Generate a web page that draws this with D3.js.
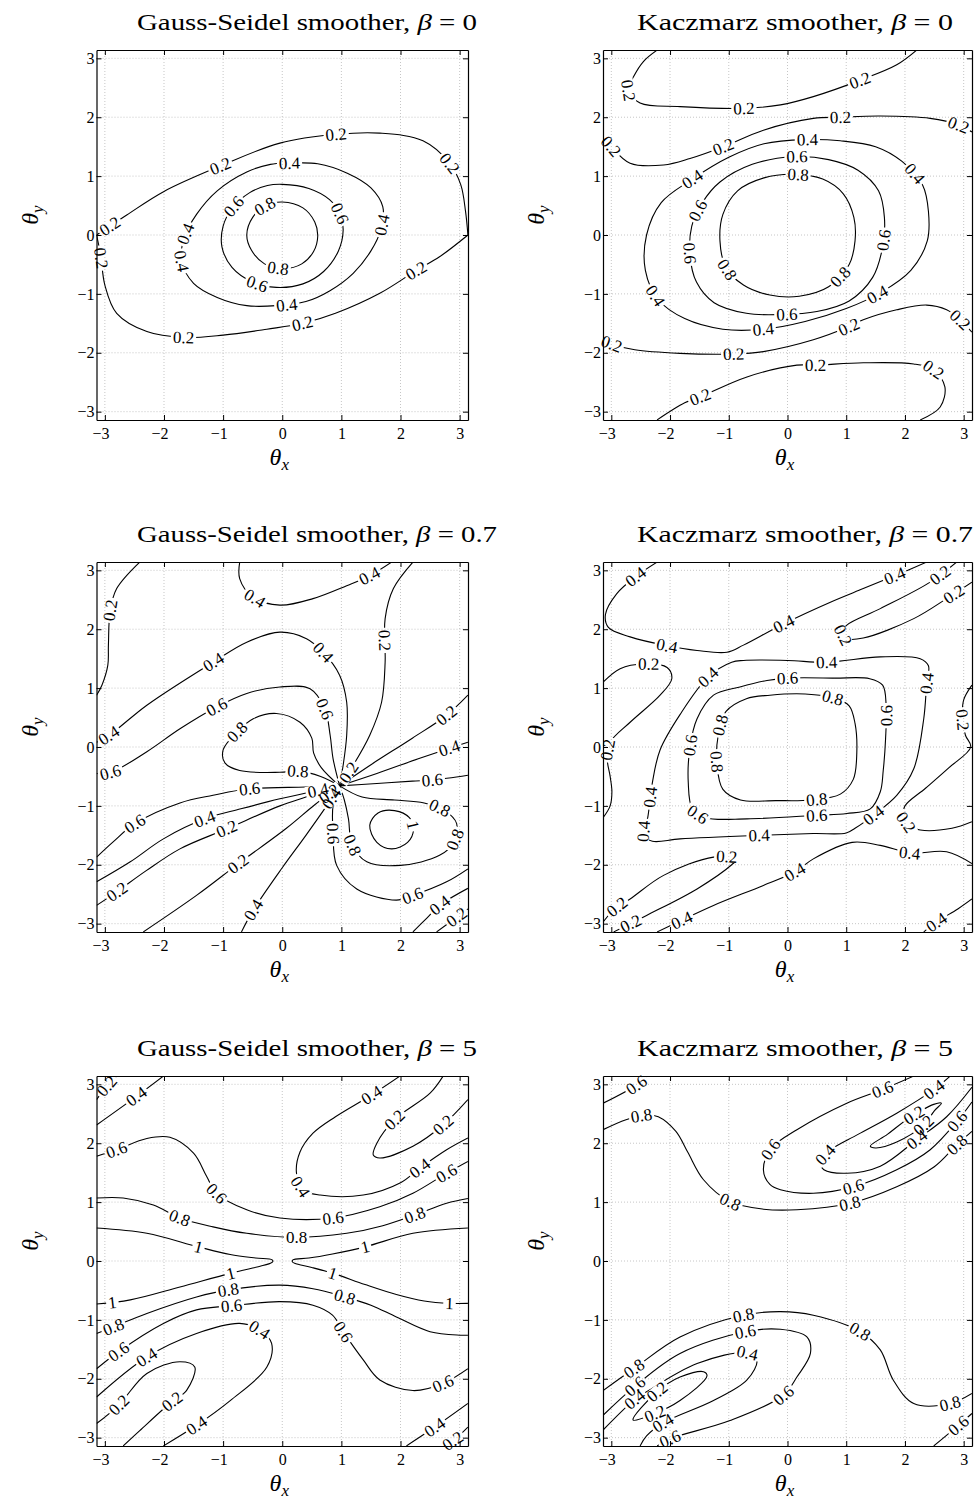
<!DOCTYPE html>
<html><head><meta charset="utf-8">
<script src="https://cdn.jsdelivr.net/npm/d3@7"></script>
<style>body{margin:0;background:#fff}</style>
</head><body>
<svg id="chart" width="976" height="1501"></svg>
<script>
// ---- data ---------------------------------------------------------------
const tickValues = [-3, -2, -1, 0, 1, 2, 3];
const smootherNames = ["Gauss-Seidel smoother", "Kaczmarz smoother"];
const betaValues = ["0", "0.7", "5"];

// Level curves of the smoothing factor: v = level, pts = (θx, θy) polyline,
// lab = where the inline level labels sit, closed = loop.
const gsBeta0 = [
  {v:0.8, closed:true, pts:[[0,0.56],[0.35,0.46],[0.55,0.22],[0.6,-0.02],[0.53,-0.28],[0.33,-0.49],[0.03,-0.57],[-0.3,-0.49],[-0.52,-0.26],[-0.6,0.0],[-0.5,0.3],[-0.27,0.5]], lab:[[-0.29,0.48],[-0.07,-0.57]]},
  {v:0.6, closed:true, pts:[[0,0.86],[0.45,0.79],[0.8,0.6],[0.98,0.35],[1.03,0.08],[0.95,-0.27],[0.7,-0.62],[0.35,-0.83],[-0.1,-0.89],[-0.5,-0.8],[-0.85,-0.55],[-1.02,-0.2],[-1.0,0.15],[-0.85,0.45],[-0.55,0.72],[-0.25,0.84]], lab:[[-0.77,0.45],[0.97,0.37],[-0.43,-0.85]]},
  {v:0.4, closed:true, pts:[[0.1,1.22],[0.6,1.21],[1.1,1.05],[1.5,0.8],[1.7,0.48],[1.67,0.1],[1.5,-0.27],[1.2,-0.65],[0.8,-0.95],[0.4,-1.13],[-0.1,-1.2],[-0.6,-1.2],[-1.1,-1.06],[-1.5,-0.82],[-1.7,-0.45],[-1.66,-0.05],[-1.45,0.35],[-1.1,0.75],[-0.6,1.07],[-0.2,1.2]], lab:[[0.13,1.22],[1.68,0.17],[0.07,-1.17],[-1.72,-0.45],[-1.62,0.02]]},
  {v:0.2, pts:[[-3.14,0],[-2.63,0.34],[-2.0,0.74],[-1.05,1.17],[-0.04,1.56],[0.92,1.71],[1.65,1.73],[2.38,1.6],[2.83,1.22],[3.02,0.85],[3.1,0.4],[3.14,0]], lab:[[-2.9,0.13],[-1.05,1.17],[0.92,1.71],[2.83,1.22]]},
  {v:0.2, pts:[[3.14,0],[2.66,-0.37],[2.27,-0.6],[1.65,-0.99],[0.9,-1.33],[0.35,-1.5],[-0.26,-1.6],[-1.0,-1.7],[-1.67,-1.74],[-2.29,-1.64],[-2.8,-1.33],[-3.0,-0.85],[-3.07,-0.35],[-3.14,0]], lab:[[2.27,-0.6],[0.35,-1.5],[-1.67,-1.74],[-3.06,-0.4]]}
];

const kzBeta0 = [
  {v:0.8, closed:true, pts:[[0.1,1.03],[0.6,0.95],[0.95,0.7],[1.13,0.3],[1.15,-0.1],[1.05,-0.5],[0.7,-0.88],[0.2,-1.04],[-0.3,-1.02],[-0.75,-0.85],[-1.05,-0.55],[-1.15,-0.1],[-1.1,0.35],[-0.85,0.75],[-0.4,0.97]], lab:[[0.18,1.02],[0.84,-0.66],[-1.03,-0.59]]},
  {v:0.6, closed:true, pts:[[0.1,1.33],[0.7,1.28],[1.2,1.1],[1.55,0.75],[1.65,0.3],[1.62,-0.2],[1.45,-0.72],[1.05,-1.12],[0.5,-1.3],[-0.1,-1.35],[-0.7,-1.33],[-1.25,-1.15],[-1.55,-0.8],[-1.66,-0.35],[-1.63,0.15],[-1.45,0.55],[-1.15,0.9],[-0.6,1.2]], lab:[[0.16,1.33],[1.63,-0.08],[-0.01,-1.35],[-1.66,-0.31],[-1.52,0.42]]},
  {v:0.4, closed:true, pts:[[0.3,1.62],[0.9,1.6],[1.5,1.5],[1.95,1.25],[2.3,0.85],[2.4,0.4],[2.38,-0.1],[2.1,-0.6],[1.6,-0.97],[1.0,-1.25],[0.3,-1.47],[-0.4,-1.6],[-1.1,-1.6],[-1.75,-1.42],[-2.2,-1.1],[-2.42,-0.6],[-2.4,0.0],[-2.15,0.55],[-1.65,0.93],[-1.0,1.32],[-0.4,1.55]], lab:[[0.33,1.62],[2.2,1.08],[1.52,-0.99],[-0.41,-1.6],[-2.28,-1.05],[-1.6,0.93]]},
  {v:0.2, pts:[[-2.22,3.14],[-2.45,2.95],[-2.62,2.69],[-2.71,2.46],[-2.51,2.24],[-1.83,2.18],[-0.75,2.15],[-0.12,2.21],[0.44,2.35],[1.24,2.63],[1.86,2.89],[2.2,3.14]], lab:[[-2.71,2.46],[-0.75,2.15],[1.24,2.63]]},
  {v:0.2, pts:[[-3.14,1.68],[-3.0,1.5],[-2.68,1.22],[-2.11,1.19],[-1.66,1.3],[-1.09,1.5],[-0.41,1.78],[0.44,1.98],[0.9,2.0],[1.58,2.02],[2.43,1.98],[2.91,1.87],[3.14,1.75]], lab:[[-3.0,1.5],[-1.09,1.5],[0.9,2.0],[2.91,1.87]]},
  {v:0.2, pts:[[3.14,-1.65],[2.94,-1.44],[2.71,-1.27],[2.37,-1.19],[1.86,-1.27],[1.29,-1.44],[1.04,-1.56],[0.44,-1.78],[-0.41,-1.98],[-0.92,-2.02],[-1.83,-2.01],[-2.6,-1.95],[-2.99,-1.85],[-3.14,-1.78]], lab:[[2.94,-1.44],[1.04,-1.56],[-0.92,-2.02],[-2.99,-1.84]]},
  {v:0.2, pts:[[-2.22,-3.14],[-1.75,-2.85],[-1.49,-2.75],[-0.69,-2.41],[0.16,-2.21],[0.47,-2.21],[1.29,-2.17],[2.15,-2.19],[2.49,-2.29],[2.68,-2.58],[2.6,-2.92],[2.26,-3.14]], lab:[[-1.49,-2.75],[0.47,-2.21],[2.49,-2.29]]}
];

const gsBeta07 = [
  {v:0.2, pts:[[-2.41,3.14],[-2.8,2.69],[-2.91,2.32],[-2.94,1.73],[-2.95,1.39],[-3.05,1.05],[-3.14,0.88]], lab:[[-2.91,2.32]]},
  {v:0.4, pts:[[-0.72,3.14],[-0.72,2.86],[-0.5,2.55],[-0.04,2.41],[0.52,2.52],[1.09,2.74],[1.48,2.91],[1.85,3.14]], lab:[[-0.46,2.52],[1.48,2.91]]},
  {v:0.2, pts:[[2.21,3.14],[1.88,2.69],[1.74,2.18],[1.74,1.44],[1.68,0.76],[1.48,0.2],[1.2,-0.31],[0.97,-0.66]], lab:[[1.74,1.81],[1.1,-0.42]]},
  {v:0.4, pts:[[-3.14,0.08],[-2.9,0.22],[-2.29,0.71],[-1.17,1.44],[-0.6,1.78],[-0.04,1.95],[0.41,1.84],[0.69,1.61],[0.97,1.22],[1.09,0.76],[1.09,0.2],[1.03,-0.31],[0.97,-0.66]], lab:[[-2.94,0.2],[-1.17,1.44],[0.69,1.61]]},
  {v:0.6, pts:[[-3.14,-0.45],[-2.9,-0.43],[-2.29,-0.08],[-1.73,0.31],[-1.11,0.68],[-0.6,0.91],[-0.04,1.02],[0.47,0.99],[0.72,0.65],[0.81,0.2],[0.86,-0.2],[0.97,-0.66]], lab:[[-2.9,-0.43],[-1.11,0.68],[0.72,0.65]]},
  {v:0.8, pts:[[0.97,-0.66],[0.66,-0.35],[0.53,-0.1],[0.5,0.15],[0.3,0.42],[-0.1,0.57],[-0.49,0.48],[-0.77,0.25],[-1.0,-0.05],[-0.97,-0.27],[-0.72,-0.4],[-0.04,-0.43],[0.27,-0.41],[0.65,-0.5],[0.97,-0.66]], lab:[[-0.77,0.27],[0.27,-0.41]]},
  {v:0.6, pts:[[0.97,-0.66],[0.4,-0.68],[-0.55,-0.71],[-1.17,-0.82],[-1.73,-0.95],[-2.49,-1.3],[-2.86,-1.61],[-3.14,-1.87]], lab:[[-0.55,-0.71],[-2.49,-1.3]]},
  {v:0.4, pts:[[0.97,-0.66],[0.5,-0.76],[-0.04,-0.88],[-0.7,-1.05],[-1.31,-1.22],[-2.01,-1.56],[-2.57,-1.95],[-3.14,-2.29]], lab:[[0.6,-0.74],[-1.31,-1.22]]},
  {v:0.2, pts:[[0.97,-0.66],[0.4,-0.85],[-0.04,-1.0],[-0.94,-1.39],[-1.73,-1.73],[-2.3,-2.1],[-2.8,-2.46],[-3.14,-2.69]], lab:[[-0.94,-1.39],[-2.8,-2.46]]},
  {v:0.2, pts:[[0.97,-0.66],[0.55,-0.98],[0.07,-1.38],[-0.74,-1.98],[-1.45,-2.52],[-2.35,-3.14]], lab:[[0.8,-0.8],[-0.74,-1.98]]},
  {v:0.4, pts:[[0.97,-0.66],[0.75,-1.0],[0.4,-1.5],[0.0,-2.05],[-0.49,-2.77],[-0.69,-3.14]], lab:[[0.86,-0.9],[-0.49,-2.77]]},
  {v:0.6, pts:[[0.97,-0.66],[0.86,-0.99],[0.86,-1.47],[0.92,-2.01],[1.26,-2.41],[1.93,-2.6],[2.21,-2.52],[2.78,-2.29],[3.14,-2.07]], lab:[[0.86,-1.47],[2.21,-2.52]]},
  {v:0.8, pts:[[0.97,-0.66],[1.35,-0.85],[1.9,-0.9],[2.4,-0.95],[2.75,-1.08],[2.95,-1.3],[2.9,-1.62],[2.66,-1.84],[2.0,-2.01],[1.43,-1.95],[1.18,-1.65],[1.12,-1.22],[1.05,-0.9],[0.97,-0.66]], lab:[[2.66,-1.05],[2.89,-1.56],[1.17,-1.67]]},
  {v:1, closed:true, pts:[[1.48,-1.33],[1.62,-1.12],[1.9,-1.08],[2.15,-1.2],[2.22,-1.4],[2.12,-1.62],[1.85,-1.73],[1.6,-1.62]], lab:[[2.21,-1.33]]},
  {v:0.2, pts:[[0.97,-0.66],[1.5,-0.3],[2.2,0.15],[2.78,0.54],[3.14,0.88]], lab:[[2.78,0.54]]},
  {v:0.4, pts:[[0.97,-0.66],[1.6,-0.45],[2.3,-0.2],[2.83,-0.02],[3.14,0.08]], lab:[[2.83,-0.05]]},
  {v:0.6, pts:[[0.97,-0.66],[1.6,-0.62],[2.2,-0.58],[2.55,-0.56],[3.14,-0.48]], lab:[[2.55,-0.58]]},
  {v:0.4, pts:[[2.21,-3.14],[2.45,-2.9],[2.66,-2.69],[3.14,-2.4]], lab:[[2.66,-2.69]]},
  {v:0.2, pts:[[2.61,-3.14],[2.95,-2.89],[3.14,-2.75]], lab:[[2.95,-2.89]]}
];

const kzBeta07 = [
  {v:0.8, closed:true, pts:[[-0.3,0.88],[0.3,0.9],[0.8,0.83],[1.05,0.7],[1.15,0.4],[1.18,-0.1],[1.12,-0.55],[0.9,-0.8],[0.4,-0.9],[-0.2,-0.91],[-0.8,-0.9],[-1.1,-0.72],[-1.2,-0.3],[-1.18,0.2],[-1.05,0.6],[-0.7,0.82]], lab:[[0.78,0.84],[0.5,-0.9],[-1.2,-0.25],[-1.15,0.37]]},
  {v:0.6, closed:true, pts:[[0,1.17],[0.8,1.17],[1.4,1.16],[1.62,1.05],[1.68,0.7],[1.67,0.14],[1.63,-0.4],[1.58,-0.76],[1.41,-1.05],[1.01,-1.13],[0.5,-1.16],[-0.69,-1.22],[-1.4,-1.2],[-1.62,-1.05],[-1.69,-0.6],[-1.66,0.0],[-1.54,0.48],[-1.26,0.88],[-0.81,1.02],[-0.35,1.13]], lab:[[0,1.17],[1.69,0.54],[0.5,-1.16],[-1.54,-1.15],[-1.63,0.03]]},
  {v:0.4, closed:true, pts:[[-0.75,1.47],[-0.95,1.44],[-1.35,1.19],[-1.83,0.55],[-2.17,-0.05],[-2.3,-0.6],[-2.38,-1.2],[-2.45,-1.5],[-2.3,-1.6],[-1.83,-1.56],[-0.49,-1.5],[0.44,-1.47],[1.0,-1.46],[1.15,-1.38],[1.46,-1.16],[1.86,-0.82],[2.15,-0.37],[2.32,0.48],[2.37,1.08],[2.4,1.38],[2.26,1.5],[1.58,1.53],[0.67,1.44],[0.0,1.47]], lab:[[-1.35,1.19],[-2.31,-0.85],[-2.43,-1.44],[-0.49,-1.5],[1.46,-1.16],[2.37,1.08],[0.67,1.44]]},
  {v:0.4, pts:[[-2.22,3.14],[-2.59,2.89],[-2.91,2.6],[-3.1,2.25],[-3.05,2.03],[-2.68,1.87],[-2.05,1.72],[-1.54,1.64],[-1.03,1.61],[-0.75,1.73],[-0.07,2.09],[0.73,2.46],[1.29,2.69],[1.83,2.91],[2.37,3.14]], lab:[[-2.59,2.89],[-2.05,1.72],[-0.07,2.09],[1.83,2.91]]},
  {v:0.4, pts:[[3.14,-1.98],[2.71,-1.78],[2.09,-1.8],[1.58,-1.67],[1.1,-1.62],[0.44,-1.9],[0.13,-2.12],[-0.41,-2.35],[-1.26,-2.69],[-1.8,-2.94],[-2.22,-3.14]], lab:[[2.09,-1.8],[0.13,-2.12],[-1.8,-2.94]]},
  {v:0.4, pts:[[2.32,-3.14],[2.54,-2.97],[2.9,-2.75],[3.14,-2.58]], lab:[[2.54,-2.97]]},
  {v:0.2, pts:[[-3.14,1.1],[-2.85,1.33],[-2.45,1.41],[-2.05,1.35],[-1.97,1.16],[-2.17,0.88],[-2.68,0.42],[-3.02,0.08],[-3.07,-0.2],[-3.02,-0.5],[-2.99,-0.76],[-3.02,-1.0],[-3.14,-1.2]], lab:[[-2.37,1.39],[-3.06,-0.05]]},
  {v:0.2, pts:[[3.14,1.05],[3.0,0.8],[2.98,0.5],[3.03,0.2],[3.12,0.0],[2.75,-0.35],[2.35,-0.7],[2.0,-1.0],[1.97,-1.15],[2.05,-1.32],[2.26,-1.41],[2.8,-1.38],[3.14,-1.27]], lab:[[2.99,0.46],[2.03,-1.27]]},
  {v:0.2, pts:[[2.88,3.14],[2.43,2.8],[1.58,2.35],[1.01,2.07],[0.93,1.95],[1.01,1.84],[1.29,1.85],[2.15,2.18],[2.71,2.52],[3.14,2.8]], lab:[[2.6,2.91],[0.96,1.9],[2.83,2.6]]},
  {v:0.2, pts:[[-2.96,-3.14],[-2.4,-2.86],[-1.54,-2.41],[-0.95,-2.0],[-0.86,-1.9],[-1.26,-1.87],[-2.11,-2.18],[-2.68,-2.58],[-2.91,-2.72],[-3.14,-2.97]], lab:[[-1.03,-1.9],[-2.91,-2.72],[-2.68,-2.97]]}
];

const gsBeta5 = [
  {v:1, pts:[[-3.14,0.56],[-2.29,0.47],[-1.42,0.24],[-0.88,0.11],[-0.45,0.05],[-0.17,0.02],[-0.16,-0.01],[-0.2,-0.04],[-0.5,-0.12],[-0.88,-0.21],[-1.73,-0.44],[-2.57,-0.66],[-3.14,-0.73]], lab:[[-1.42,0.23],[-0.88,-0.21],[-2.88,-0.72]]},
  {v:1, pts:[[3.14,0.56],[2.21,0.47],[1.4,0.24],[0.85,0.12],[0.45,0.05],[0.18,0.02],[0.17,-0.01],[0.21,-0.04],[0.5,-0.11],[0.86,-0.21],[1.4,-0.4],[1.93,-0.57],[2.4,-0.68],[2.83,-0.72],[3.14,-0.72]], lab:[[1.4,0.24],[0.86,-0.21],[2.83,-0.72]]},
  {v:0.8, pts:[[-3.14,1.07],[-2.69,1.07],[-2.18,0.95],[-1.73,0.73],[-1.17,0.58],[-0.6,0.47],[0.24,0.4],[1.09,0.47],[1.7,0.6],[2.24,0.78],[2.78,0.98],[3.14,1.06]], lab:[[-1.73,0.73],[0.24,0.4],[2.24,0.78]]},
  {v:0.8, pts:[[-3.14,-1.23],[-2.86,-1.12],[-2.29,-0.89],[-1.45,-0.61],[-0.91,-0.49],[-0.04,-0.41],[0.52,-0.47],[1.06,-0.61],[1.5,-0.75],[1.93,-0.95],[2.5,-1.2],[3.0,-1.26],[3.14,-1.26]], lab:[[-2.86,-1.12],[-0.91,-0.49],[1.06,-0.61]]},
  {v:0.6, pts:[[-3.14,1.78],[-2.8,1.89],[-2.29,2.08],[-1.9,2.1],[-1.5,1.83],[-1.28,1.44],[-1.11,1.15],[-0.6,0.87],[-0.04,0.73],[0.86,0.73],[1.65,0.92],[2.21,1.15],[2.78,1.49],[3.14,1.69]], lab:[[-2.8,1.89],[-1.11,1.15],[0.86,0.73],[2.78,1.49]]},
  {v:0.6, pts:[[-3.14,-1.83],[-2.77,-1.54],[-2.01,-1.06],[-1.45,-0.83],[-0.86,-0.76],[-0.04,-0.69],[0.52,-0.75],[0.85,-0.92],[1.03,-1.2],[1.37,-1.68],[1.65,-2.02],[2.21,-2.2],[2.72,-2.08],[3.14,-1.83]], lab:[[-2.77,-1.54],[-0.86,-0.76],[1.03,-1.2],[2.72,-2.08]]},
  {v:0.4, pts:[[1.99,3.14],[1.51,2.82],[0.9,2.45],[0.52,2.17],[0.3,1.85],[0.24,1.5],[0.35,1.21],[0.64,1.12],[1.37,1.12],[2.0,1.33],[2.33,1.58],[2.78,1.89],[3.14,2.09]], lab:[[1.51,2.82],[0.3,1.25],[2.33,1.58]]},
  {v:0.2, pts:[[2.72,3.14],[2.5,2.85],[1.9,2.4],[1.6,2.0],[1.54,1.8],[1.65,1.75],[2.21,1.95],[2.72,2.31],[3.14,2.74]], lab:[[1.9,2.4],[2.72,2.31]]},
  {v:0.2, pts:[[-3.14,2.74],[-2.97,2.97],[-2.8,3.14]], lab:[[-2.97,2.97]]},
  {v:0.4, pts:[[-3.14,2.31],[-2.46,2.8],[-2.01,3.14]], lab:[[-2.46,2.8]]},
  {v:0.4, pts:[[-3.14,-2.31],[-2.29,-1.63],[-1.45,-1.23],[-0.72,-1.06],[-0.38,-1.17],[-0.18,-1.4],[-0.26,-1.8],[-0.88,-2.37],[-1.45,-2.79],[-2.01,-3.14]], lab:[[-2.29,-1.63],[-0.38,-1.17],[-1.45,-2.79]]},
  {v:0.2, pts:[[-3.14,-2.76],[-2.77,-2.45],[-2.29,-1.91],[-1.73,-1.71],[-1.48,-1.8],[-1.62,-2.2],[-1.87,-2.39],[-2.41,-2.88],[-2.69,-3.14]], lab:[[-2.77,-2.45],[-1.87,-2.39]]},
  {v:0.4, pts:[[2.1,-3.14],[2.58,-2.82],[3.14,-2.42]], lab:[[2.58,-2.82]]},
  {v:0.2, pts:[[2.72,-3.14],[2.89,-3.05],[3.14,-2.82]], lab:[[2.89,-3.05]]}
];

const kzBeta5 = [
  {v:0.8, pts:[[-3.14,2.23],[-2.75,2.4],[-2.4,2.48],[-2.2,2.45],[-1.9,2.2],[-1.7,1.85],[-1.43,1.38],[-0.98,1.01],[-0.41,0.88],[0.16,0.87],[1.07,0.98],[1.86,1.26],[2.5,1.6],[2.88,1.97],[3.14,2.2]], lab:[[-2.48,2.46],[-0.98,1.01],[1.07,0.98],[2.88,1.97]]},
  {v:0.6, pts:[[-3.14,2.68],[-2.57,2.99],[-2.4,3.14]], lab:[[-2.57,2.99]]},
  {v:0.6, pts:[[2.15,3.14],[1.61,2.91],[1.01,2.68],[0.16,2.23],[-0.27,1.92],[-0.41,1.55],[-0.3,1.3],[-0.12,1.21],[0.44,1.15],[1.12,1.26],[1.86,1.55],[2.43,1.89],[2.91,2.4],[3.14,2.7]], lab:[[1.61,2.91],[-0.3,1.9],[1.12,1.26],[2.88,2.38]]},
  {v:0.4, pts:[[2.77,3.14],[2.49,2.91],[1.86,2.51],[1.2,2.15],[0.75,1.9],[0.6,1.75],[0.56,1.66],[0.62,1.55],[1.01,1.49],[1.58,1.61],[2.2,2.06],[2.71,2.45],[3.14,2.95]], lab:[[2.49,2.91],[0.64,1.82],[2.2,2.06]]},
  {v:0.2, closed:true, pts:[[1.41,1.95],[1.7,2.15],[2.03,2.4],[2.49,2.66],[2.62,2.68],[2.5,2.55],[2.32,2.31],[1.86,2.02],[1.5,1.92]], lab:[[2.15,2.5],[2.32,2.31]]},
  {v:0.8, pts:[[-3.14,-2.2],[-2.62,-1.83],[-1.83,-1.29],[-0.75,-0.92],[-0.12,-0.86],[0.44,-0.92],[1.24,-1.2],[1.58,-1.51],[1.8,-2.02],[2.15,-2.42],[2.77,-2.42],[3.14,-2.25]], lab:[[-2.62,-1.83],[-0.75,-0.92],[1.24,-1.2],[2.77,-2.42]]},
  {v:0.6, pts:[[-3.14,-2.62],[-2.59,-2.12],[-1.83,-1.57],[-0.72,-1.2],[-0.12,-1.16],[0.33,-1.29],[0.39,-1.57],[0.16,-1.97],[-0.07,-2.28],[-0.98,-2.71],[-2.0,-3.02],[-2.22,-3.14]], lab:[[-2.6,-2.12],[-0.72,-1.2],[-0.07,-2.28],[-2.0,-3.02]]},
  {v:0.4, pts:[[-3.14,-2.87],[-2.6,-2.35],[-2.4,-2.22],[-1.54,-1.74],[-0.69,-1.56],[-0.52,-1.68],[-0.69,-2.02],[-1.26,-2.37],[-2.12,-2.75],[-2.4,-2.97],[-2.51,-3.14]], lab:[[-2.6,-2.35],[-0.69,-1.56],[-2.12,-2.75]]},
  {v:0.2, closed:true, pts:[[-2.63,-2.7],[-2.22,-2.22],[-1.83,-1.97],[-1.43,-1.88],[-1.37,-1.95],[-1.83,-2.37],[-2.28,-2.6]], lab:[[-2.22,-2.22],[-2.28,-2.55]]},
  {v:0.6, pts:[[2.49,-3.14],[2.91,-2.79],[3.14,-2.59]], lab:[[2.91,-2.79]]}
];

const panelData = [[gsBeta0, kzBeta0], [gsBeta07, kzBeta07], [gsBeta5, kzBeta5]];

// ---- layout ---------------------------------------------------------------
const colX = [96.5, 603], colW = [371.5, 369];
const rowY = [50, 562, 1076], rowH = 370;
const titleX = [137, 637];
const titleW = [[340, 316], [360, 336], [340, 316]];
const serif = "'Liberation Serif','Times New Roman',serif";

const svg = d3.select("#chart");
svg.append("rect").attr("width", 976).attr("height", 1501).attr("fill", "#fff");

const fmtTick = d => d < 0 ? "\u2212" + (-d) : String(d);
let uid = 0;

rowY.forEach((y0, r) => colX.forEach((x0, c) => {
  drawPanel(x0, y0, colW[c], rowH, panelData[r][c]);
  // title
  const t = svg.append("text").attr("x", titleX[c]).attr("y", y0 - 20)
    .attr("font-family", serif).attr("font-size", 23).style("white-space", "pre");
  t.append("tspan").text(smootherNames[c] + ", ");
  t.append("tspan").attr("font-style", "italic").text("\u03b2");
  t.append("tspan").text(" = " + betaValues[r]);
  t.attr("textLength", titleW[r][c]).attr("lengthAdjust", "spacingAndGlyphs");
  // axis titles
  const tx = svg.append("text").attr("x", x0 + colW[c] / 2 - 3).attr("y", y0 + rowH + 45)
    .attr("text-anchor", "middle").attr("font-family", serif).attr("font-style", "italic").attr("font-size", 24);
  tx.append("tspan").text("\u03b8");
  tx.append("tspan").attr("font-size", 17).attr("dy", 5).text("x");
  const ty = svg.append("text").attr("transform", `translate(${x0 - 59},${y0 + rowH / 2 - 20}) rotate(-90)`)
    .attr("text-anchor", "middle").attr("font-family", serif).attr("font-style", "italic").attr("font-size", 24);
  ty.append("tspan").text("\u03b8");
  ty.append("tspan").attr("font-size", 17).attr("dy", 5).text("y");
}));

function drawPanel(x0, y0, w, h, lines) {
  const id = uid++;
  const x = d3.scaleLinear().domain([-Math.PI, Math.PI]).range([0, w]);
  const y = d3.scaleLinear().domain([-Math.PI, Math.PI]).range([h, 0]);
  const g = svg.append("g").attr("transform", `translate(${x0},${y0})`);

  // dotted grid
  const grid = g.append("g").attr("stroke", "#b8b8b8").attr("stroke-width", 0.8).attr("stroke-dasharray", "1,2");
  tickValues.forEach(t => {
    grid.append("line").attr("x1", x(t)).attr("x2", x(t)).attr("y1", 0).attr("y2", h);
    grid.append("line").attr("y1", y(t)).attr("y2", y(t)).attr("x1", 0).attr("x2", w);
  });

  const defs = g.append("defs");
  defs.append("clipPath").attr("id", "clip" + id).append("rect").attr("width", w).attr("height", h);
  const mask = defs.append("mask").attr("id", "mask" + id).attr("maskUnits", "userSpaceOnUse")
    .attr("x", -30).attr("y", -30).attr("width", w + 60).attr("height", h + 60);
  mask.append("rect").attr("x", -30).attr("y", -30).attr("width", w + 60).attr("height", h + 60).attr("fill", "#fff");

  const lineG = g.append("g").attr("clip-path", `url(#clip${id})`).append("g").attr("mask", `url(#mask${id})`);
  const openLine = d3.line().x(d => x(d[0])).y(d => y(d[1])).curve(d3.curveCatmullRom.alpha(0.5));
  const loopLine = d3.line().x(d => x(d[0])).y(d => y(d[1])).curve(d3.curveCatmullRomClosed.alpha(0.5));

  const labelG = g.append("g").attr("font-family", serif).attr("font-size", 17).attr("fill", "#000");

  lines.forEach(L => {
    const path = lineG.append("path").attr("d", (L.closed ? loopLine : openLine)(L.pts))
      .attr("fill", "none").attr("stroke", "#000").attr("stroke-width", 1.1);
    const node = path.node();
    const len = node.getTotalLength();
    const samples = [];
    for (let s = 0; s <= len; s += 1) { const q = node.getPointAtLength(s); samples.push([q.x, q.y, s]); }
    (L.lab || []).forEach(a => {
      const px = x(a[0]), py = y(a[1]);
      let best = samples[0], bd = Infinity;
      samples.forEach(s => { const d = (s[0] - px) ** 2 + (s[1] - py) ** 2; if (d < bd) { bd = d; best = s; } });
      const p0 = node.getPointAtLength(Math.max(0, best[2] - 6));
      const p1 = node.getPointAtLength(Math.min(len, best[2] + 6));
      let ang = Math.atan2(p1.y - p0.y, p1.x - p0.x) * 180 / Math.PI;
      if (ang > 90) ang -= 180;
      if (ang < -90) ang += 180;
      const tr = `translate(${best[0]},${best[1]}) rotate(${ang})`;
      const txt = labelG.append("text").attr("transform", tr).attr("text-anchor", "middle")
        .attr("dy", "0.34em").text(String(L.v));
      const tw = txt.node().getComputedTextLength();
      mask.append("rect").attr("transform", tr).attr("x", -tw / 2 - 2).attr("y", -6)
        .attr("width", tw + 4).attr("height", 12).attr("fill", "#000");
    });
  });

  // axes: inward ticks on all four sides, labels on left and bottom
  const styleAxis = sel => sel.attr("font-family", serif).attr("font-size", 16)
    .call(s => s.selectAll("line").attr("stroke", "#000"))
    .call(s => s.select(".domain").attr("stroke", "#000").attr("stroke-width", 1.2));
  g.append("g").attr("transform", `translate(0,${h})`)
    .call(d3.axisBottom(x).tickValues(tickValues).tickSizeInner(-5).tickSizeOuter(0).tickPadding(8).tickFormat(fmtTick))
    .call(styleAxis)
    .call(s => s.selectAll("text").attr("fill", "#000").attr("dx", d => d < 0 ? "-0.28em" : null));
  g.append("g")
    .call(d3.axisLeft(y).tickValues(tickValues).tickSizeInner(-5).tickSizeOuter(0).tickPadding(2).tickFormat(fmtTick))
    .call(styleAxis)
    .call(s => s.selectAll("text").attr("fill", "#000"));
  g.append("g")
    .call(d3.axisTop(x).tickValues(tickValues).tickSizeInner(-5).tickSizeOuter(0).tickFormat(""))
    .call(styleAxis);
  g.append("g").attr("transform", `translate(${w},0)`)
    .call(d3.axisRight(y).tickValues(tickValues).tickSizeInner(-5).tickSizeOuter(0).tickFormat(""))
    .call(styleAxis);
}
</script>
</body></html>
